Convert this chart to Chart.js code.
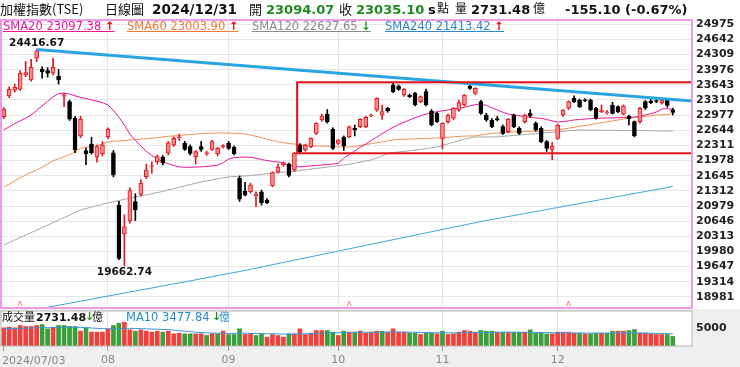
<!DOCTYPE html>
<html>
<head>
<meta charset="utf-8">
<script src="https://cdn.jsdelivr.net/npm/chart.js@4.4.1/dist/chart.umd.min.js"></script>
<style>
  body { margin: 0; background: #fff; }
  #wrap { position: relative; width: 740px; height: 367px; overflow: hidden; font-family: "DejaVu Sans", Verdana, sans-serif; }
  #volbg { position: absolute; left: 0; top: 309px; width: 740px; height: 58px; background: #efefef; }
  canvas { position: absolute; left: 0; }
  .t { position: absolute; white-space: nowrap; line-height: 1; color: #111; }
  .cjk { font-family: "Noto Sans CJK TC", sans-serif; }
  .b { font-weight: bold; }
  .g { color: #1c8c1c; }
  .up { color: #e0101a; font-weight: bold; }
  .dn { color: #1c9a1c; font-weight: bold; }
  .lg { font-size: 11.5px; text-decoration: underline; top: 21px; }
</style>
</head>
<body>
<div id="wrap">
  <div id="volbg"></div>
  <canvas id="main" width="740" height="310" style="top:0"></canvas>
  <canvas id="vol" width="740" height="62" style="top:305px"></canvas>

  <span class="t cjk" style="left:0;top:2px;font-size:13px">加權指數(TSE)</span>
  <span class="t cjk" style="left:105px;top:2px;font-size:13px">日線圖</span>
  <span class="t b" style="left:152px;top:3px;font-size:13.5px">2024/12/31</span>
  <span class="t cjk" style="left:249px;top:2px;font-size:13px">開</span>
  <span class="t b g" style="left:266px;top:3px;font-size:13px">23094.07</span>
  <span class="t cjk" style="left:339px;top:2px;font-size:13px">收</span>
  <span class="t b g" style="left:356px;top:3px;font-size:13px">23035.10</span>
  <span class="t b" style="left:428px;top:3px;font-size:13px">s</span>
  <span class="t cjk" style="left:437px;top:2px;font-size:12px">點</span>
  <span class="t cjk" style="left:455px;top:2px;font-size:12px">量</span>
  <span class="t b" style="left:471px;top:3px;font-size:13px">2731.48</span>
  <span class="t cjk" style="left:533px;top:2px;font-size:12px">億</span>
  <span class="t b" style="left:565px;top:3px;font-size:13px">-155.10 (-0.67%)</span>

  <span class="t lg" style="left:3px;color:#e8179a">SMA20 23097.38 <span class="up">↑</span></span>
  <span class="t lg" style="left:127px;color:#f07a34">SMA60 23003.90 <span class="up">↑</span></span>
  <span class="t lg" style="left:252px;color:#8a8a8a">SMA120 22627.65 <span class="dn">↓</span></span>
  <span class="t lg" style="left:385px;color:#2a88cc">SMA240 21413.42 <span class="up">↑</span></span>

  <span class="t cjk" style="left:2px;top:311px;font-size:11px">成交量</span>
  <span class="t b" style="left:36px;top:312px;font-size:11px">2731.48</span>
  <span class="t dn" style="left:85px;top:311px;font-size:11px">↓</span>
  <span class="t cjk" style="left:92px;top:311px;font-size:11px">億</span>
  <span class="t" style="left:126px;top:312px;font-size:11.5px;color:#2a88cc">MA10 3477.84</span>
  <span class="t dn" style="left:212px;top:311px;font-size:11px">↓</span>
  <span class="t cjk" style="left:219px;top:311px;font-size:11px;color:#2a88cc">億</span>
  <span class="t" id="firstDate" style="left:2px;top:355px;font-size:11px;color:#888"></span>
</div>
<script>
const dates = [
  '2024/07/03','2024/07/04','2024/07/05','2024/07/08','2024/07/09','2024/07/10','2024/07/11','2024/07/12','2024/07/15','2024/07/16',
  '2024/07/17','2024/07/18','2024/07/19','2024/07/22','2024/07/23','2024/07/26','2024/07/29','2024/07/30','2024/07/31',
  '2024/08/01','2024/08/02','2024/08/05','2024/08/06','2024/08/07','2024/08/08','2024/08/09','2024/08/12','2024/08/13','2024/08/14',
  '2024/08/15','2024/08/16','2024/08/19','2024/08/20','2024/08/21','2024/08/22','2024/08/23','2024/08/26','2024/08/27','2024/08/28',
  '2024/08/29','2024/08/30',
  '2024/09/02','2024/09/03','2024/09/04','2024/09/05','2024/09/06','2024/09/09','2024/09/10','2024/09/11','2024/09/12','2024/09/13',
  '2024/09/16','2024/09/18','2024/09/19','2024/09/20','2024/09/23','2024/09/24','2024/09/25','2024/09/26','2024/09/27','2024/09/30',
  '2024/10/01','2024/10/04','2024/10/07','2024/10/08','2024/10/09','2024/10/11','2024/10/14','2024/10/15','2024/10/16','2024/10/17',
  '2024/10/18','2024/10/21','2024/10/22','2024/10/23','2024/10/24','2024/10/25','2024/10/28','2024/10/29','2024/10/30',
  '2024/11/01','2024/11/04','2024/11/05','2024/11/06','2024/11/07','2024/11/08','2024/11/11','2024/11/12','2024/11/13','2024/11/14',
  '2024/11/15','2024/11/18','2024/11/19','2024/11/20','2024/11/21','2024/11/22','2024/11/25','2024/11/26','2024/11/27','2024/11/28',
  '2024/11/29',
  '2024/12/02','2024/12/03','2024/12/04','2024/12/05','2024/12/06','2024/12/09','2024/12/10','2024/12/11','2024/12/12','2024/12/13',
  '2024/12/16','2024/12/17','2024/12/18','2024/12/19','2024/12/20','2024/12/23','2024/12/24','2024/12/25','2024/12/26','2024/12/27',
  '2024/12/30','2024/12/31'
];

const open = [
  22945,23397,23530,23545,23860,23749,24230,23984,23953,23896,23837,23395,23272,22907,22518,22195,22342,22050,22122,
  22503,22150,21001,20364,20650,21074,21236,21624,21850,21953,22050,22138,22320,22480,22357,22283,22063,22283,22130,22225,22122,22280,
  22357,22270,21585,21300,21293,21200,21293,21112,21420,21727,21880,21900,21771,22320,22211,22283,22577,22870,23002,22664,
  22357,22489,22503,22687,22723,22723,22960,23089,22980,23127,23639,23617,23419,23419,23456,23272,23492,23067,23016,
  22467,22833,22907,23089,23199,23617,23456,23272,22980,22870,22900,22723,22613,22980,22687,22833,23016,22797,22687,22394,22225,
  22467,22980,23127,23345,23309,23310,23309,23127,23053,23030,23199,23162,22995,22950,22833,22833,23272,23290,23295,23250,23309,23094.07
];
const high = [
  23140,23600,23660,23953,24155,24200,24416.67,24040,24020,24225,23980,23456,23310,22950,22950,22250,22490,22320,22400,
  22700,22200,21080,20786,21380,21250,21560,21900,21950,22100,22090,22400,22500,22560,22400,22320,22200,22400,22180,22420,22270,22330,
  22400,22300,21640,21500,21480,21290,21330,21140,21730,21900,21950,21920,22160,22350,22340,22480,22810,23000,23100,22700,
  22440,22520,22740,22760,22900,22950,23000,23360,23200,23150,23700,23640,23560,23440,23480,23400,23550,23100,23040,
  22810,23000,23140,23300,23430,23660,23580,23300,23020,22900,22950,22760,22900,23000,22720,23000,23100,22830,22720,22420,22380,
  22780,23100,23290,23400,23330,23340,23330,23150,23200,23080,23260,23180,23200,22980,22850,23150,23300,23320,23320,23330,23340,23130
];
const low = [
  22900,23360,23480,23520,23820,23720,24150,23790,23810,23860,23660,23162,22860,22150,22480,21888,22120,21940,22080,
  22460,21620,19800,19662.74,20600,20660,21200,21580,21700,21900,21880,22100,22290,22420,22200,22100,21900,22180,22090,22200,22080,22250,
  22220,22100,21080,21200,21260,20965,21000,21030,21400,21700,21850,21620,21740,22150,22180,22260,22550,22840,22800,22220,
  22330,22200,22480,22520,22700,22700,22940,23060,22880,23040,23470,23520,23390,23360,23180,23250,23180,22740,22810,
  22230,22800,22880,23060,23170,23540,23430,22990,22840,22700,22850,22550,22590,22700,22550,22800,22930,22620,22370,22180,22000,
  22440,22950,23100,23250,23140,23270,23070,22890,23030,23000,23000,23030,22980,22760,22500,22800,23100,23230,23250,23220,23150,22980
];
const close = [
  23109,23545,23590,23896,23910,24027,24390,23925,23896,24027,23749,23420,22885,22210,22885,22122,22150,22283,22320,
  22665,21660,19830,20524,21316,20891,21476,21771,21870,22063,21918,22370,22467,22500,22225,22137,22173,22225,22150,22395,22247,22310,
  22247,22122,21127,21220,21441,21240,21052,21052,21713,21837,21930,21650,22138,22173,22320,22467,22797,22958,22833,22247,
  22430,22298,22722,22650,22885,22930,22985,23347,23053,23067,23492,23544,23544,23382,23199,23382,23199,22760,22833,
  22797,22980,23127,23250,23419,23566,23566,23016,22870,22723,22870,22577,22885,22723,22577,22980,22958,22650,22394,22247,22298,
  22760,23089,23272,23272,23162,23295,23089,22907,23089,23045,23016,23053,23180,22900,22518,23127,23127,23250,23275,23309,23190.20,23035.10
];

// 成交量 (億)
const volume = [
  5190,5380,5190,5860,5570,5570,5860,6140,4905,5380,5860,5860,5570,5570,4240,5190,3950,3950,3950,
  4905,5860,6520,6810,4620,4240,4620,4240,3950,4240,3950,4240,3475,3670,3475,3475,3475,3475,3000,3475,3475,4240,
  3285,3285,4905,3285,3475,3000,3475,2520,3285,3000,2520,3475,3475,4905,3285,3670,4430,4430,4430,3950,
  3000,4240,3950,3950,4240,3670,3950,4240,4240,3950,4905,3950,3950,3670,3670,3285,3670,3670,3475,
  4240,3285,3475,3950,4430,4240,3950,4430,4240,4240,3950,3950,3950,3950,3950,3950,4620,3670,3670,3475,3475,
  3950,3950,3950,3670,3670,3475,3475,3670,3670,3670,4240,4240,4240,4430,4715,3670,3670,3475,3285,3285,3285,2731.48
];
const volMa10 = [
  5000,5000,5020,5050,5100,5150,5200,5250,5250,5250,5300,5320,5350,5350,5300,5250,5150,5050,4950,
  4900,4900,4950,5050,5050,5000,4950,4900,4850,4800,4750,4650,4550,4400,4250,4100,3950,3850,3750,3700,3650,3650,
  3600,3600,3650,3650,3600,3550,3550,3500,3480,3450,3400,3400,3380,3450,3450,3500,3580,3650,3700,3750,
  3800,3850,3880,3900,3900,3920,3920,3920,3930,3950,3980,4000,3980,3950,3920,3880,3850,3800,3760,
  3750,3740,3740,3760,3800,3820,3850,3870,3900,3920,3930,3930,3920,3910,3900,3890,3880,3860,3840,3820,3800,
  3780,3760,3740,3720,3700,3690,3680,3670,3660,3660,3680,3700,3720,3740,3760,3740,3700,3660,3600,3560,3520,3477.84
];

const sma20 = [
  22650,22720,22790,22850,22910,22979,23080,23180,23280,23380,23450,23460,23440,23400,23370,23340,23310,23280,23250,
  23200,23080,22930,22760,22560,22420,22300,22180,22090,22020,21950,21910,21870,21840,21830,21830,21835,21840,21850,21860,21875,21930,
  22010,22040,22050,22056,22050,22030,22000,21980,21960,21946,21920,21880,21850,21840,21850,21860,21870,21880,21890,21900,
  21920,22030,22110,22190,22270,22340,22420,22490,22570,22640,22710,22770,22820,22870,22920,22960,23000,23030,23050,
  23070,23090,23110,23130,23150,23180,23210,23220,23190,23140,23090,23040,23000,22980,22960,22945,22930,22915,22905,22880,22850,
  22825,22835,22850,22870,22880,22890,22900,22905,22910,22915,22915,22920,22925,22930,22935,22950,22980,23010,23045,23110,23120,23097.38
];
const sma60 = [
  21397,21460,21530,21600,21660,21720,21771,21830,21900,21970,22020,22060,22110,22160,22250,22270,22290,22310,22340,
  22386,22400,22410,22420,22430,22440,22450,22460,22470,22480,22500,22510,22520,22530,22540,22550,22560,22570,22575,22580,22584,22585,
  22584,22580,22570,22562,22540,22510,22480,22450,22420,22390,22370,22350,22342,22330,22320,22310,22300,22295,22290,22285,
  22280,22277,22276,22290,22310,22330,22350,22370,22390,22410,22430,22440,22445,22450,22455,22460,22465,22470,22474,
  22480,22490,22500,22510,22515,22518,22520,22540,22560,22575,22584,22590,22600,22605,22610,22615,22620,22625,22630,22640,22645,
  22650,22670,22690,22710,22730,22750,22770,22790,22810,22830,22850,22870,22890,22913,22925,22935,22950,22960,22975,22985,22995,23003.90
];
const sma120 = [
  20122,20175,20230,20285,20340,20395,20450,20505,20560,20615,20670,20725,20780,20835,20892,20925,20955,20985,21015,
  21046,21075,21100,21125,21150,21175,21200,21225,21250,21275,21300,21330,21360,21390,21420,21450,21480,21505,21530,21555,21580,21600,
  21617,21625,21632,21639,21650,21662,21675,21688,21700,21712,21722,21730,21745,21760,21775,21790,21805,21820,21835,21850,
  21865,21880,21900,21920,21945,21970,21991,22035,22080,22130,22150,22165,22180,22195,22210,22225,22240,22260,22276,
  22310,22345,22380,22415,22450,22475,22496,22496,22496,22497,22498,22510,22520,22530,22540,22550,22560,22570,22580,22590,22600,
  22606,22620,22635,22645,22650,22648,22646,22645,22644,22643,22642,22641,22640,22639,22638,22637,22635,22633,22631,22630,22629,22627.65
];
const sma240 = [
  18575,18597,18620,18642,18665,18687,18709,18732,18754,18776,18799,18821,18843,18866,18888,18910,18933,18955,18977,
  19000,19022,19044,19067,19089,19111,19134,19156,19178,19201,19223,19245,19268,19290,19312,19335,19357,19380,19403,19426,19449,19472,
  19495,19518,19541,19564,19589,19614,19639,19664,19689,19714,19739,19764,19789,19814,19839,19864,19889,19914,19939,19964,
  19989,20014,20039,20064,20089,20114,20139,20164,20189,20214,20239,20264,20289,20314,20339,20364,20389,20414,20439,
  20464,20489,20514,20539,20564,20589,20614,20638,20660,20682,20704,20726,20748,20770,20792,20814,20836,20858,20880,20902,20924,
  20946,20968,20990,21012,21034,21056,21078,21100,21122,21144,21166,21188,21210,21232,21254,21276,21298,21320,21342,21364,21386,21413.42
];

const yTicks = [24975,24642,24309,23976,23643,23310,22977,22644,22311,21978,21645,21312,20979,20646,20313,19980,19647,19314,18981];
const volTicks = [5000];
const trendX = [6, 125.5];
const trendY = [24416.67, 23287];
const boxX = [53.5, 125.5];
const boxY = [22138, 23698];
const markIdx = [3, 63, 103];

const slots = 126;
const RED = '#e8141e', BLACK = '#000000';

const monthStarts = [];
dates.forEach((d, i) => { if (i > 0 && d.slice(5, 7) !== dates[i - 1].slice(5, 7)) monthStarts.push(i); });
document.getElementById('firstDate').textContent = dates[0];

const isUp = close.map((c, i) => c >= open[i]);
const volUp = close.map((c, i) => i === 0 ? true : c >= close[i - 1]);
const xy = arr => arr.map((v, i) => ({ x: i, y: v }));

Chart.defaults.font.family = 'DejaVu Sans';
Chart.defaults.animation = false;

const frame = {
  id: 'frame',
  beforeDraw(chart, args, opts) {
    const a = chart.chartArea, ctx = chart.ctx;
    ctx.save();
    ctx.fillStyle = '#fff';
    ctx.fillRect(a.left, a.top, a.right - a.left, a.bottom - a.top);
    ctx.restore();
  },
  afterDraw(chart, args, opts) {
    const a = chart.chartArea, ctx = chart.ctx;
    ctx.save();
    ctx.strokeStyle = opts.color;
    ctx.lineWidth = opts.width;
    ctx.strokeRect(a.left, a.top, a.right - a.left, a.bottom - a.top);
    ctx.restore();
  }
};

const marks = {
  id: 'marks',
  afterDatasetsDraw(chart) {
    const xs = chart.scales.x, ys = chart.scales.y, ctx = chart.ctx, a = chart.chartArea;
    ctx.save();
    // range box
    const x1 = xs.getPixelForValue(boxX[0]), x2 = xs.getPixelForValue(boxX[1]);
    const y1 = ys.getPixelForValue(boxY[1]), y2 = ys.getPixelForValue(boxY[0]);
    ctx.strokeStyle = '#e3101a';
    ctx.lineWidth = 2;
    ctx.strokeRect(x1, y1, x2 - x1, y2 - y1);

    // high / low labels
    let hi = 0, lo = 0;
    high.forEach((v, i) => { if (v > high[hi]) hi = i; });
    low.forEach((v, i) => { if (v < low[lo]) lo = i; });
    ctx.font = 'bold 10.5px DejaVu Sans';
    ctx.fillStyle = '#111';
    ctx.textAlign = 'center';
    ctx.textBaseline = 'bottom';
    ctx.fillText(high[hi].toFixed(2), xs.getPixelForValue(hi), ys.getPixelForValue(high[hi]) - 1);
    ctx.textBaseline = 'top';
    ctx.fillText(low[lo].toFixed(2), xs.getPixelForValue(lo), ys.getPixelForValue(low[lo]) + 1);

    // small markers at the bottom
    ctx.strokeStyle = '#ee8080';
    ctx.lineWidth = 1;
    markIdx.forEach(i => {
      const x = xs.getPixelForValue(i), y = a.bottom - 2;
      ctx.beginPath();
      ctx.moveTo(x - 2, y);
      ctx.lineTo(x, y - 5);
      ctx.lineTo(x + 2, y);
      ctx.stroke();
    });
    ctx.restore();
  }
};

const line = (data, color, width, order) => ({
  type: 'line', data: xy(data), borderColor: color, borderWidth: width,
  pointRadius: 0, tension: 0, order: order
});

new Chart(document.getElementById('main'), {
  type: 'bar',
  data: {
    datasets: [
      {
        type: 'line',
        data: trendX.map((x, i) => ({ x: x, y: trendY[i] })),
        borderColor: '#29a6e0', borderWidth: 3, pointRadius: 0, order: 0
      },
      {
        data: close.map((c, i) => ({ x: i, y: [open[i], c] })),
        backgroundColor: isUp.map(u => u ? '#f58b8b' : BLACK),
        borderColor: isUp.map(u => u ? RED : BLACK),
        borderWidth: 1, borderSkipped: false,
        barThickness: 4, grouped: false, order: 1
      },
      {
        data: close.map((c, i) => ({ x: i, y: [low[i], high[i]] })),
        backgroundColor: isUp.map(u => u ? RED : BLACK),
        barThickness: 1, grouped: false, order: 2
      },
      line(sma20, '#e8179a', 1, 3),
      line(sma60, '#f29252', 1, 4),
      line(sma120, '#a8a8a8', 1, 5),
      line(sma240, '#3aa6d6', 1, 6)
    ]
  },
  options: {
    responsive: false,
    devicePixelRatio: 1,
    layout: { padding: { left: 1, top: 20, right: 0, bottom: 2 } },
    plugins: { legend: { display: false }, tooltip: { enabled: false }, frame: { color: '#ea9cea', width: 2 } },
    scales: {
      x: {
        type: 'linear', min: -0.5, max: slots - 0.5, offset: false,
        afterBuildTicks: s => { s.ticks = monthStarts.map(v => ({ value: v })); },
        ticks: { display: false },
        grid: { color: '#e6e6e6', drawTicks: false, offset: false },
        border: { display: false },
        afterFit: s => { s.height = 0; }
      },
      y: {
        position: 'right', min: 18738, max: 25067,
        afterBuildTicks: s => { s.ticks = yTicks.map(v => ({ value: v })); },
        ticks: { color: '#222', padding: 4, autoSkip: false, font: { size: 11, weight: 'bold' }, callback: v => String(v) },
        grid: { color: '#e6e6e6', drawTicks: false },
        border: { display: false },
        afterFit: s => { s.width = 48; s.paddingTop = 0; s.paddingBottom = 0; }
      }
    }
  },
  plugins: [frame, marks]
});

new Chart(document.getElementById('vol'), {
  type: 'bar',
  data: {
    datasets: [
      line(volMa10, '#3a96d6', 1, 0),
      {
        data: xy(volume),
        backgroundColor: volUp.map(u => u ? '#f0403c' : '#3a9e3a'),
        barThickness: 4, grouped: false, order: 1
      }
    ]
  },
  options: {
    responsive: false,
    devicePixelRatio: 1,
    layout: { padding: { left: 1, top: 6, right: 0, bottom: 0 } },
    plugins: { legend: { display: false }, tooltip: { enabled: false }, frame: { color: '#b4b4b4', width: 1 } },
    scales: {
      x: {
        type: 'linear', min: -0.5, max: slots - 0.5, offset: false,
        afterBuildTicks: s => { s.ticks = [0].concat(monthStarts).map(v => ({ value: v })); },
        ticks: {
          color: '#888', padding: 3, font: { size: 11 }, maxRotation: 0, autoSkip: false,
          callback: v => v === 0 ? '' : dates[v].slice(5, 7)
        },
        grid: { color: '#e6e6e6', tickColor: '#999', tickLength: 5, offset: false },
        border: { display: false },
        afterFit: s => { s.height = 21; }
      },
      y: {
        position: 'right', min: 0, max: 10000,
        afterBuildTicks: s => { s.ticks = volTicks.map(v => ({ value: v })); },
        ticks: { color: '#222', padding: 4, autoSkip: false, font: { size: 11, weight: 'bold' }, callback: v => String(v) },
        grid: { display: false, drawTicks: false },
        border: { display: false },
        afterFit: s => { s.width = 48; s.paddingTop = 0; s.paddingBottom = 0; }
      }
    }
  },
  plugins: [frame]
});
</script>
</body>
</html>
